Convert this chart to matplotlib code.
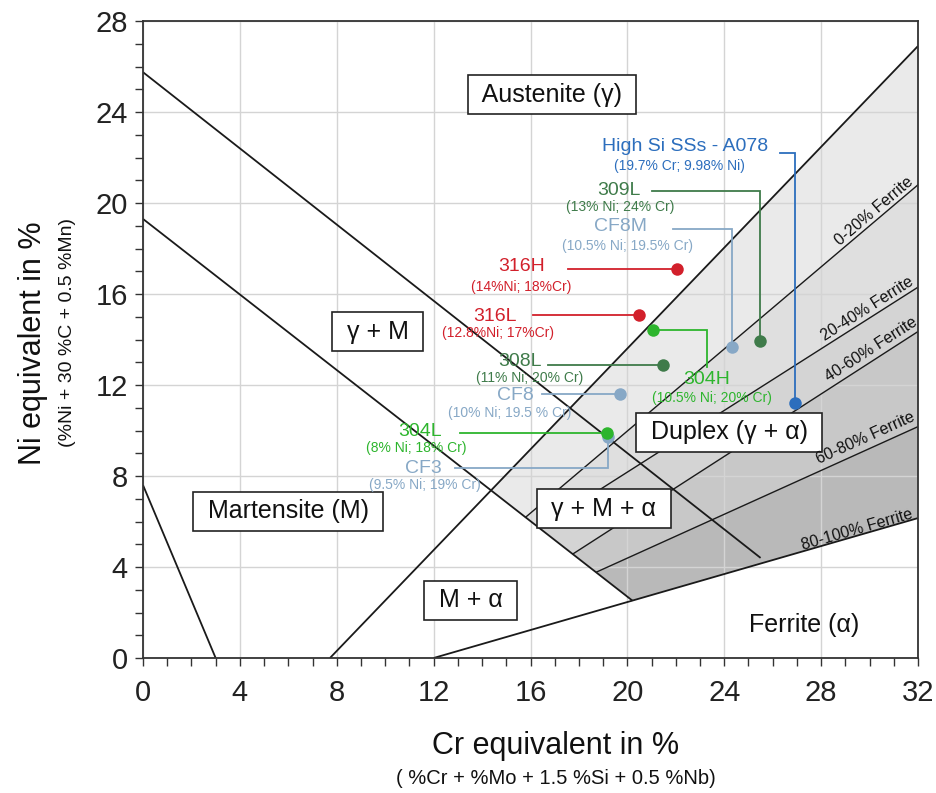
import math
import matplotlib
matplotlib.use("Agg")
import matplotlib.pyplot as plt
from matplotlib.patches import Polygon

plt.rcParams['font.family'] = ['Liberation Sans', 'DejaVu Sans']

# ---------------- data ----------------
cr_ticks = [0, 4, 8, 12, 16, 20, 24, 28, 32]
ni_ticks = [0, 4, 8, 12, 16, 20, 24, 28]

# boundary lines of the diagram (Cr_eq endpoints, Ni_eq endpoints)
austenite_line_x = [0.0, 25.5]
austenite_line_y = [25.75, 4.4]
martensite_line_x = [0.0, 20.21]
martensite_line_y = [19.3, 2.52]
low_line_x = [0.0, 3.0]
low_line_y = [7.6, 0.0]
ferrite0_x = [7.72, 32.0]
ferrite0_y = [0.0, 26.9]
ferrite100_x = [12.0, 32.0]
ferrite100_y = [0.0, 6.15]

# intermediate ferrite lines (20, 40, 60, 80 %): start on martensite line, end at right edge
ferrite_mid_start_x = [15.8, 16.38, 17.76, 18.73]
ferrite_mid_start_y = [6.19, 5.72, 4.58, 3.78]
ferrite_mid_end_y = [20.8, 16.3, 14.35, 10.17]
# start of 0 % and 100 % lines on the martensite line
ferrite0_start = (14.37, 7.37)
ferrite100_start = (20.21, 2.52)

band_labels = ['0-20% Ferrite', '20-40% Ferrite', '40-60% Ferrite',
               '60-80% Ferrite', '80-100% Ferrite']
band_colors = ['#eaeaea', '#dfdfdf', '#d4d4d4', '#c8c8c8', '#b9b9b9']

region_labels = ['Austenite (γ)', 'γ + M', 'Martensite (M)', 'M + α',
                 'γ + M + α', 'Duplex (γ + α)']

materials = ['High Si SSs - A078', '309L', 'CF8M', '316H', '316L',
             '304H', '308L', 'CF8', 'CF3', '304L']
compositions = ['(19.7% Cr; 9.98% Ni)', '(13% Ni; 24% Cr)',
                '(10.5% Ni; 19.5% Cr)', '(14%Ni; 18%Cr)',
                '(12.8%Ni; 17%Cr)', '(10.5% Ni; 20% Cr)',
                '(11% Ni; 20% Cr)', '(10% Ni; 19.5 % Cr)',
                '(9.5% Ni; 19% Cr)', '(8% Ni; 18% Cr)']
cr_eq = [26.92, 25.47, 24.3, 22.03, 20.49, 21.04, 21.48, 19.69, 19.2, 19.15]
ni_eq = [11.2, 13.95, 13.66, 17.1, 15.08, 14.42, 12.88, 11.6, 9.7, 9.88]

# ---------------- styles / layout ----------------
RED = '#d2202b'
BLUE = '#2c6ebd'
DKGREEN = '#3f7b4a'
GREEN = '#2db52d'
LTBLUE = '#87a8c6'
mat_colors = [BLUE, DKGREEN, LTBLUE, RED, RED, GREEN, DKGREEN, LTBLUE, LTBLUE, GREEN]

title_pos = [(22.4, 22.47), (19.64, 20.54), (19.7, 18.96), (15.63, 17.2),
             (14.53, 15.0), (23.27, 12.22), (15.57, 13.02), (15.36, 11.56),
             (11.57, 8.34), (11.44, 9.95)]
sub_pos = [(22.17, 21.63), (19.7, 19.81), (20.0, 18.11), (15.6, 16.32),
           (14.66, 14.27), (23.48, 11.41), (15.98, 12.32), (15.15, 10.76),
           (11.64, 7.6), (11.27, 9.22)]
# leader waypoints (point appended / prepended below)
leaders = [
    [(26.3, 22.18), (26.92, 22.18)],
    [(21.0, 20.54), (25.47, 20.54)],
    [(21.87, 18.84), (24.3, 18.84)],
    [(17.56, 17.1)],
    [(16.12, 15.08)],
    None,
    [(16.73, 12.88)],
    [(16.46, 11.6)],
    [(12.88, 8.36), (19.2, 8.36)],
    [(13.09, 9.88)],
]
leader_304H = [(23.3, 14.42), (23.3, 12.8)]

region_pos = [(16.89, 24.76), (9.68, 14.34), (6.0, 6.46), (13.52, 2.53),
              (19.03, 6.55), (24.2, 9.93)]
band_label_pos = [(30.18, 19.65), (29.92, 15.34), (30.06, 13.58),
                  (29.85, 9.67), (29.47, 5.63)]

W, H = 936, 793
fig = plt.figure(figsize=(W / 100, H / 100), dpi=100)
ax_l, ax_r, ax_t, ax_b = 143, 918, 21, 658
ax = fig.add_axes([ax_l / W, 1 - ax_b / H, (ax_r - ax_l) / W, (ax_b - ax_t) / H])
ax.set_xlim(0, 32)
ax.set_ylim(0, 28)
ax.set_axisbelow(True)

px_per_x = (ax_r - ax_l) / 32
px_per_y = (ax_b - ax_t) / 28


def disp_angle(x0, y0, x1, y1):
    return math.degrees(math.atan2((y1 - y0) * px_per_y, (x1 - x0) * px_per_x))


# ---------------- shading bands ----------------
starts = [ferrite0_start] + list(zip(ferrite_mid_start_x, ferrite_mid_start_y)) + [ferrite100_start]
ends_y = [ferrite0_y[1]] + ferrite_mid_end_y + [ferrite100_y[1]]
for i in range(5):
    poly = [starts[i], (32, ends_y[i]), (32, ends_y[i + 1]), starts[i + 1]]
    ax.add_patch(Polygon(poly, closed=True, facecolor=band_colors[i],
                         edgecolor='none', zorder=0.2))

# ---------------- grid / axes ----------------
ax.set_xticks(cr_ticks)
ax.set_yticks(ni_ticks)
ax.set_xticks(range(0, 33), minor=True)
ax.set_yticks(range(0, 29), minor=True)
ax.grid(True, which='major', color='#d4d4d4', lw=1.0)
ax.tick_params(which='both', direction='out', length=6, width=1, color='#333333')
ax.tick_params(axis='x', which='major', labelsize=21, pad=9, labelcolor='#222222')
ax.tick_params(axis='y', which='major', labelsize=21, pad=5, labelcolor='#222222')
for s in ax.spines.values():
    s.set_linewidth(1.3)
    s.set_color('#333333')

# ---------------- boundary lines ----------------
lk = dict(color='#1a1a1a', lw=1.3, zorder=2, solid_capstyle='butt')
ax.plot(austenite_line_x, austenite_line_y, **lk)
ax.plot(martensite_line_x, martensite_line_y, **lk)
ax.plot(low_line_x, low_line_y, **lk)
ax.plot(ferrite0_x, ferrite0_y, **lk)
ax.plot(ferrite100_x, ferrite100_y, **lk)
for sx, sy, ey in zip(ferrite_mid_start_x, ferrite_mid_start_y, ferrite_mid_end_y):
    ax.plot([sx, 32], [sy, ey], color='#1a1a1a', lw=1.0, zorder=2)

# band labels
lower_lines = list(zip(ferrite_mid_start_x, ferrite_mid_start_y, ferrite_mid_end_y)) + \
    [(ferrite100_start[0], ferrite100_start[1], ferrite100_y[1])]
for lab, (bx, by), (sx, sy, ey) in zip(band_labels, band_label_pos, lower_lines):
    ang = disp_angle(sx, sy, 32, ey)
    ax.text(bx, by, lab, rotation=ang, rotation_mode='anchor', ha='center',
            va='center', fontsize=11.5, color='#111111', zorder=6)

# ---------------- region labels ----------------
for lab, (rx, ry) in zip(region_labels, region_pos):
    ax.text(rx, ry, ' ' + lab + ' ', ha='center', va='center', fontsize=18,
            color='#111111', zorder=3,
            bbox=dict(boxstyle='square,pad=0.3', facecolor='white',
                      edgecolor='#222222', lw=1.2))
ax.text(27.3, 1.45, 'Ferrite (α)', ha='center', va='center', fontsize=18,
        color='#111111', zorder=3)

# ---------------- materials ----------------
for i, name in enumerate(materials):
    c = mat_colors[i]
    px, py = cr_eq[i], ni_eq[i]
    if leaders[i] is not None:
        path = leaders[i] + [(px, py)]
    else:
        path = [(px, py)] + leader_304H
    ax.plot([p[0] for p in path], [p[1] for p in path], color=c, lw=1.3,
            zorder=4, solid_joinstyle='miter')
    ax.plot([px], [py], 'o', color=c, ms=9, zorder=5, mec='none')
    tx, ty = title_pos[i]
    ax.text(tx, ty, name, ha='center', va='center', fontsize=14, color=c, zorder=6)
    sx, sy = sub_pos[i]
    ax.text(sx, sy, compositions[i], ha='center', va='center', fontsize=10,
            color=c, zorder=6)

# ---------------- axis titles ----------------
fig.text(556 / W, 1 - 746 / H, 'Cr equivalent in %', ha='center', va='center',
         fontsize=22, color='#111111')
fig.text(556 / W, 1 - 778 / H, '( %Cr + %Mo + 1.5 %Si + 0.5 %Nb)', ha='center',
         va='center', fontsize=14.5, color='#111111')
fig.text(33 / W, 1 - 343 / H, 'Ni equivalent in %', ha='center', va='center',
         rotation=90, fontsize=22, color='#111111')
fig.text(67 / W, 1 - 332 / H, '(%Ni + 30 %C + 0.5 %Mn)', ha='center',
         va='center', rotation=90, fontsize=14, color='#111111')

fig.savefig('out.png', dpi=100)
